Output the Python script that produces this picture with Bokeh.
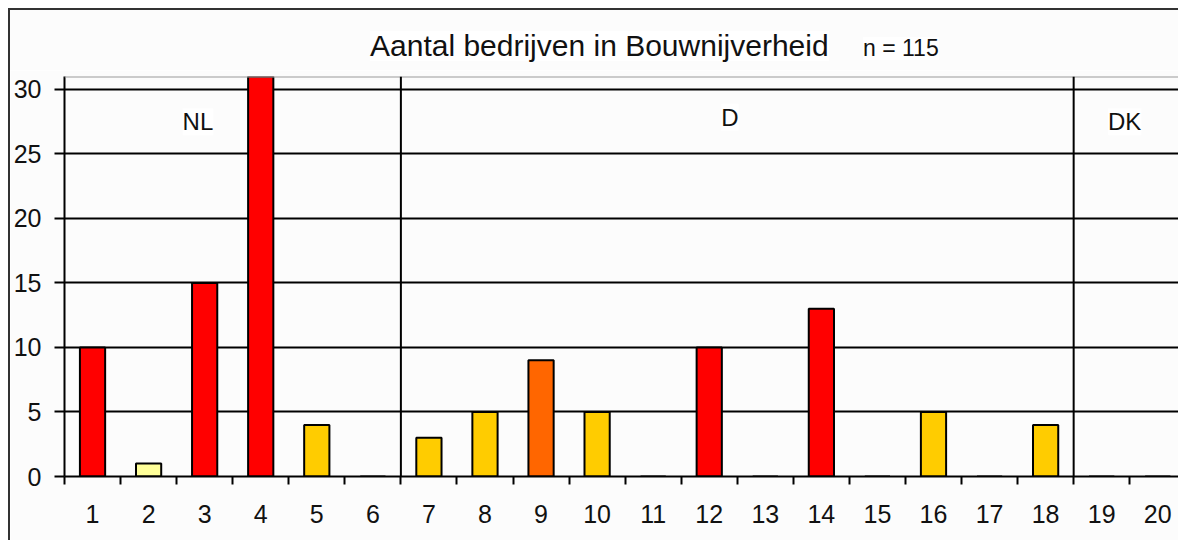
from bokeh.plotting import figure
from bokeh.models import Range1d, FixedTicker, Span, Label, Div
from bokeh.layouts import column
from bokeh.embed import file_html
from bokeh.resources import INLINE

# ---- data ----
categories = list(range(1, 21))
counts = [10, 1, 15, 31, 4, 0, 3, 5, 9, 5, 0, 10, 0, 13, 0, 5, 0, 4, 0, 0]
bar_colors = ["#FF0000", "#FFFF99", "#FF0000", "#FF0000", "#FFCC00", "#FFFFFF",
              "#FFCC00", "#FFCC00", "#FF6600", "#FFCC00", "#FFFFFF", "#FF0000",
              "#FFFFFF", "#FF0000", "#FFFFFF", "#FFCC00", "#FFFFFF", "#FFCC00",
              "#FFFFFF", "#FFFFFF"]
y_ticks = [0, 5, 10, 15, 20, 25, 30]
group_names = ["NL", "D", "DK"]
group_bounds = [6.5, 18.5]
title_text = "Aantal bedrijven in Bouwnijverheid"
n_text = "n = 115"

FONT = "Liberation Sans"
BG = "#FCFCFC"

p = figure(width=1168, height=470, output_backend="svg", toolbar_location=None,
           x_range=Range1d(0.5, 20.37), y_range=Range1d(0, 31),
           min_border_left=54, min_border_top=6, min_border_bottom=64,
           min_border_right=0, background_fill_color=BG,
           border_fill_color=BG)
p.outline_line_color = None

p.vbar(x=categories, top=counts, width=0.45, fill_color=bar_colors,
       line_color="black", line_width=2)

# axes
p.xaxis.ticker = FixedTicker(ticks=categories,
                             minor_ticks=[c + 0.5 for c in range(0, 21)])
p.xaxis.major_tick_out = 0
p.xaxis.major_tick_in = 0
p.xaxis.minor_tick_out = 8
p.xaxis.minor_tick_in = 0
p.xaxis.minor_tick_line_color = "black"
p.xaxis.minor_tick_line_width = 2
p.xaxis.major_label_standoff = 20

p.yaxis.ticker = FixedTicker(ticks=y_ticks)
p.yaxis.major_tick_out = 10
p.yaxis.major_tick_in = 0
p.yaxis.minor_tick_out = 0
p.yaxis.minor_tick_in = 0
p.yaxis.major_tick_line_width = 2
p.yaxis.major_label_standoff = 13

for ax in (p.xaxis, p.yaxis):
    ax.axis_line_color = "black"
    ax.axis_line_width = 2
    ax.major_tick_line_color = "black"
    ax.major_label_text_font = FONT
    ax.major_label_text_font_size = "25px"
    ax.major_label_text_color = "#111111"

p.xgrid.visible = False
p.ygrid.ticker = FixedTicker(ticks=y_ticks)
p.ygrid.grid_line_color = "black"
p.ygrid.grid_line_width = 2

# grey top edge of the plot area
p.add_layout(Span(location=31, dimension="width", line_color="#999999",
                  line_width=2))
for b in group_bounds:
    p.add_layout(Span(location=b, dimension="height", line_color="black",
                      line_width=2))

group_pos = [(2.88, 27.5), (12.37, 27.85), (19.41, 27.5)]
for name, (gx, gy) in zip(group_names, group_pos):
    p.add_layout(Label(x=gx, y=gy, text=name, text_font=FONT,
                       text_font_size="24px", text_align="center",
                       text_baseline="middle", text_color="#111111",
                       background_fill_color="white"))

header_html = (
    f'<div style="position:relative;width:1168px;height:60px;background:{BG};'
    "font-family:'Liberation Sans',Arial,sans-serif;color:#111111\">"
    '<span style="position:absolute;left:360px;top:21px;font-size:30px;'
    f'line-height:30px;white-space:nowrap;background:white">{title_text}</span>'
    '<span style="position:absolute;left:853px;top:27px;font-size:23px;'
    f'line-height:23px;white-space:nowrap;background:white">{n_text}</span></div>'
)
header = Div(text=header_html, width=1168, height=60, margin=(0, 0, 0, 0))

root = column(header, p, spacing=0,
              styles={"margin-left": "8px", "margin-top": "8px",
                      "box-sizing": "content-box", "overflow": "visible",
                      "border-left": "2px solid #333333",
                      "border-top": "2px solid #333333"})

open("out.html", "w").write(file_html(root, INLINE))
